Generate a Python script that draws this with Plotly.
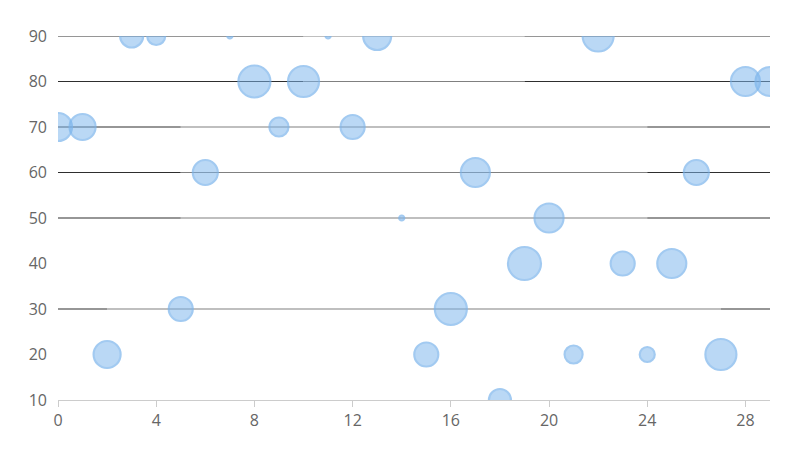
import plotly.graph_objects as go

# bubble data
x_vals = list(range(30))
y_vals = [70, 70, 20, 90, 90, 30, 60, 90, 80, 70,
          80, 90, 70, 90, 50, 20, 30, 60, 10, 40,
          50, 20, 90, 40, 20, 40, 60, 20, 80, 80]
z_vals = [28, 26, 27, 23, 18, 24, 25, 5, 32, 19,
          31, 5, 24, 28, 5, 24, 32, 29, 22, 33,
          29, 18, 31, 24, 15, 29, 25, 31, 29, 29]

x_ticks = [0, 4, 8, 12, 16, 20, 24, 28]
y_ticks = [10, 20, 30, 40, 50, 60, 70, 80, 90]

DARK = '#2e2e2e'
GRAY = '#808080'

fig = go.Figure()

fig.add_trace(go.Scatter(
    x=x_vals,
    y=y_vals,
    mode='markers',
    cliponaxis=True,
    marker=dict(
        size=z_vals,
        sizemode='diameter',
        color='rgba(124,181,236,0.74)',
        line=dict(color='rgb(124,181,236)', width=2.2),
    ),
    hoverinfo='x+y',
    showlegend=False))

# the odd two-tone grid rows of the original
grid_rows = [
    (90, [(0, 10, DARK), (10, 19, GRAY), (19, 29, DARK)]),
    (80, [(0, 10, DARK), (10, 19, GRAY), (19, 29, DARK)]),
    (70, [(0, 5, DARK), (5, 24, GRAY), (24, 29, DARK)]),
    (60, [(0, 5, DARK), (5, 24, GRAY), (24, 29, DARK)]),
    (50, [(0, 5, DARK), (5, 24, GRAY), (24, 29, DARK)]),
    (30, [(0, 2, DARK), (2, 27, GRAY), (27, 29, DARK)]),
]
shapes = []
for gy, segs in grid_rows:
    for x0, x1, col in segs:
        shapes.append(dict(type='line', xref='x', yref='y', layer='below',
                           x0=x0, x1=x1, y0=gy, y1=gy,
                           line=dict(color=col, width=1.2)))

# page body has an 8px margin, so the figure is 8px smaller each way
fig.update_layout(
    width=792, height=442,
    margin=dict(l=50, r=30, t=28, b=50),
    paper_bgcolor='white',
    plot_bgcolor='white',
    font=dict(family='Open Sans, Noto Sans, sans-serif', size=16, color='#666666'),
    shapes=shapes,
    xaxis=dict(
        range=[0, 29],
        tickvals=x_ticks,
        showgrid=False,
        zeroline=False,
        showline=True,
        linecolor='#cccccc',
        linewidth=1,
        ticks='outside',
        ticklen=6,
        tickcolor='#cccccc',
    ),
    yaxis=dict(
        range=[10, 90],
        tickvals=y_ticks,
        showgrid=False,
        zeroline=False,
        showline=False,
        ticks='',
        ticklabelstandoff=10,
    ),
)

fig.write_html("out.html")
